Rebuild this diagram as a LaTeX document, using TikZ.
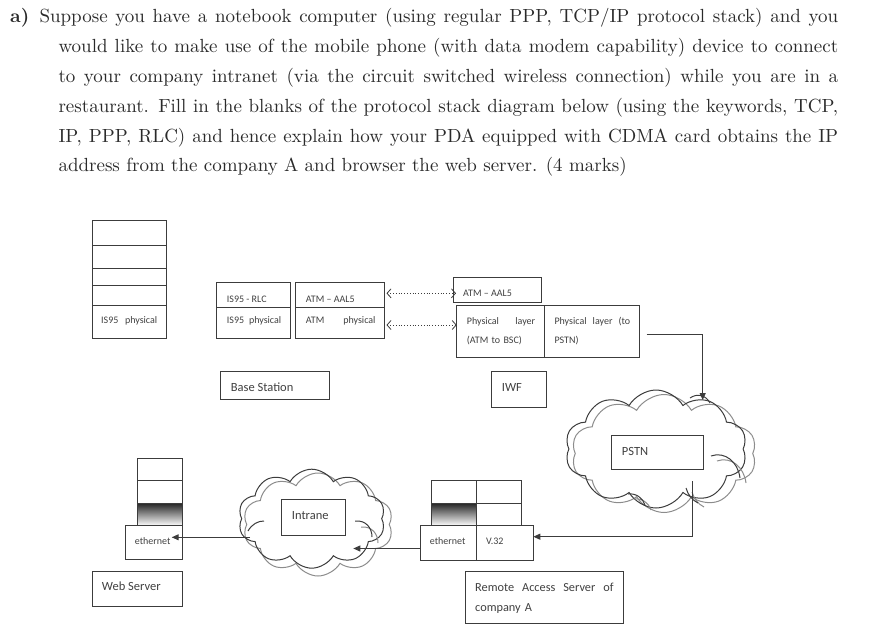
\documentclass[tikz,border=0pt]{standalone}
\usepackage{fontspec}
\newfontfamily\diagfont{Carlito}
\newfontfamily\titlefont{lmroman10-regular.otf}[BoldFont=lmroman10-bold.otf]
\usetikzlibrary{arrows.meta,shapes.symbols}
\definecolor{linec}{HTML}{3C3C3C}
\definecolor{txtc}{HTML}{404040}
\definecolor{titlec}{HTML}{2A2A2A}
\begin{document}
\begin{tikzpicture}[x=1pt,y=-1pt,
  box/.style={draw=linec, line width=1pt, inner sep=0pt, outer sep=0pt, anchor=north west},
  wbox/.style={box, fill=white},
  gbox/.style={box, top color=black!85, bottom color=white},
  sm/.style={font=\diagfont\fontsize{10}{12}\selectfont, text=txtc, inner sep=0pt, anchor=base west},
  lg/.style={font=\diagfont\fontsize{12.5}{15}\selectfont, text=txtc, inner sep=0pt, anchor=base west},
  arr/.style={draw=linec, line width=1pt, -{Triangle[length=7pt,width=6pt]}},
  darr/.style={draw=linec, line width=0.8pt, dotted, {Straight Barb[length=4pt,width=9pt]}-{Straight Barb[length=4pt,width=9pt]}},
  cloudk/.style={cloud, cloud puffs=10, cloud puff arc=120, cloud ignores aspect, draw=linec, line width=1pt, inner sep=0pt},
  cloudg/.style={cloudk, draw=black!45},
  inarck/.style={draw=linec, line width=1pt},
  inarcg/.style={draw=black!45, line width=1pt}
]
\useasboundingbox (0,0) rectangle (872,644);

% ---- question text ----
\node[anchor=base west, inner sep=0pt, text=titlec, font=\titlefont\fontsize{19}{29.8}\selectfont\bfseries] (qa) at (10,23) {a)};
\node[anchor=base west, inner sep=0pt, text=titlec, text width=798.7pt, align=justify, font=\titlefont\fontsize{19}{29.8}\selectfont] (qtext) at (39.3,23)
{\hangindent=19pt\hangafter=1 Suppose you have a notebook computer (using regular PPP, TCP/IP protocol stack) and you\linebreak
would like to make use of the mobile phone (with data modem capability) device to connect\linebreak
to your company intranet (via the circuit switched wireless connection) while you are in a\linebreak
restaurant. Fill in the blanks of the protocol stack diagram below (using the keywords, TCP,\linebreak
IP, PPP, RLC) and hence explain how your PDA equipped with CDMA card obtains the IP\linebreak
address from the company A and browser the web server. (4 marks)\par};

% ---- notebook stack ----
\node[box, minimum width=73.7pt, minimum height=25pt]   (nb1) at (92.3,220.7) {};
\node[box, minimum width=73.7pt, minimum height=23pt]   (nb2) at (92.3,245.7) {};
\node[box, minimum width=73.7pt, minimum height=16.6pt] (nb3) at (92.3,268.7) {};
\node[box, minimum width=73.7pt, minimum height=19.7pt] (nb4) at (92.3,285.3) {};
\node[box, minimum width=73.7pt, minimum height=33.3pt] (nb5) at (92.3,305) {};
\node[sm, text width=56pt] (nb5t) at (101,323.5) {IS95\hfill physical};

% ---- base station ----
\node[box, minimum width=74.7pt, minimum height=25.7pt] (bs1) at (216,282) {};
\node[box, minimum width=74.7pt, minimum height=30.6pt] (bs2) at (216,307.7) {};
\node[box, minimum width=88.6pt, minimum height=25.7pt] (bs3) at (295.7,282) {};
\node[box, minimum width=88.6pt, minimum height=30.6pt] (bs4) at (295.7,307.7) {};
\node[sm] (bs1t) at (226.7,302.5) {IS95 - RLC};
\node[sm, text width=54.3pt] (bs2t) at (226.7,323.5) {IS95\hfill physical};
\node[sm] (bs3t) at (305.7,302.5) {ATM – AAL5};
\node[sm, text width=69.6pt] (bs4t) at (305.7,323.5) {ATM\hfill physical};
\node[box, minimum width=109pt, minimum height=27.3pt] (bsl) at (220,371.7) {};
\node[lg] (bslt) at (230.7,391.2) {Base Station};

% ---- IWF ----
\node[box, minimum width=88.4pt, minimum height=25.4pt] (i1) at (453.3,277.3) {};
\node[box, minimum width=87.6pt, minimum height=52.3pt] (i2) at (456.7,305) {};
\node[box, minimum width=95pt, minimum height=52.3pt]   (i3) at (544.3,305) {};
\node[sm] (i1t) at (463,296.5) {ATM – AAL5};
\node[sm, text width=68.3pt, align=left, font=\diagfont\fontsize{10}{19.3}\selectfont] (i2t) at (466.7,324.2) {Physical\hfill layer\\(ATM to BSC)};
\node[sm, text width=75.7pt, align=left, font=\diagfont\fontsize{10}{19.3}\selectfont] (i3t) at (554.3,324.2) {Physical\hfill layer\hfill (to\\PSTN)};
\node[box, minimum width=54.3pt, minimum height=35.6pt] (iwfl) at (491.7,371.7) {};
\node[lg] (iwflt) at (501.7,391.2) {IWF};

% ---- dotted links ----
\coordinate (d1a) at (386.5,293.3);
\coordinate (d1b) at (456,293.3);
\coordinate (d2a) at (386.5,325);
\coordinate (d2b) at (456.7,325);
\draw[darr] (d1a) -- (d1b);
\draw[darr] (d2a) -- (d2b);

% ---- clouds ----
\node[cloudg, minimum width=185pt, minimum height=118pt] (pstncg) at (664,453.5) {};
\node[cloudk, minimum width=182pt, minimum height=118pt] (pstnc) at (656,449) {};
\draw[inarcg] (717,461) .. controls (731,456) and (744,467) .. (746,483);
\draw[inarck] (711,456) .. controls (725,451) and (738,462) .. (740,478);
\draw[inarcg] (692,492) .. controls (694,499) and (698,504) .. (704,507);
\draw[inarck] (686,488) .. controls (688,495) and (692,500) .. (698,503);
\draw[inarcg] (634,499) .. controls (642,498) and (649,503) .. (651,510);
\draw[inarck] (628,494) .. controls (636,493) and (643,498) .. (645,505);
\draw[inarck] (690,398) .. controls (697,393) and (706,395) .. (710,403);

\node[cloudg, minimum width=150pt, minimum height=103pt] (intcg) at (318,524.5) {};
\node[cloudk, minimum width=147pt, minimum height=99pt] (intc) at (311.7,518.7) {};
\draw[inarcg] (361,527) .. controls (372,526) and (378,534) .. (378,543);
\draw[inarck] (355,521) .. controls (366,520) and (372,528) .. (372,537);
\draw[inarck] (248,531) .. controls (252,524) and (258,521) .. (264,521);

\node[wbox, minimum width=91.6pt, minimum height=34.3pt] (pstnb) at (611.7,435) {};
\node[lg] (pstnt) at (621.7,455.5) {PSTN};
\node[wbox, minimum width=64pt, minimum height=36.4pt] (intb) at (281,499.3) {};
\node[lg] (intt) at (291.7,519.5) {Intrane};

% ---- remote access server ----
\node[box, minimum width=45.7pt, minimum height=23.3pt] (r1) at (431,480) {};
\node[box, minimum width=45pt, minimum height=23.3pt]   (r2) at (476.7,480) {};
\node[gbox, minimum width=45.7pt, minimum height=22.4pt] (r3) at (431,503.3) {};
\node[box, minimum width=45pt, minimum height=22.4pt]   (r4) at (476.7,503.3) {};
\node[box, minimum width=56.7pt, minimum height=34.3pt] (rb1) at (420,525.7) {};
\node[box, minimum width=56.6pt, minimum height=34.3pt] (rb2) at (476.7,525.7) {};
\node[sm, anchor=base] (rb1t) at (447.7,544.2) {ethernet};
\node[sm] (rb2t) at (486,544.2) {V.32};
\node[box, minimum width=158.3pt, minimum height=51.6pt] (rasl) at (465,571.7) {};
\node[lg, text width=138.3pt, align=left, font=\diagfont\fontsize{12.3}{20}\selectfont] (raslt) at (475,591.2) {Remote\hfill Access\hfill Server\hfill of\\company A};

% ---- web server ----
\node[box, minimum width=45pt, minimum height=22.4pt]  (ws1) at (137.3,458.3) {};
\node[box, minimum width=45pt, minimum height=22.6pt]  (ws2) at (137.3,480.7) {};
\node[gbox, minimum width=45pt, minimum height=22.4pt] (ws3) at (137.3,503.3) {};
\node[box, minimum width=56.6pt, minimum height=33.3pt] (ws4) at (125.7,525.7) {};
\node[sm, anchor=base] (ws4t) at (152.7,544.2) {ethernet};
\node[box, minimum width=90pt, minimum height=35.7pt] (wsl) at (92.3,571) {};
\node[lg] (wslt) at (101.7,590.5) {Web Server};

% ---- connectors ----
\coordinate (iwfout) at (646.7,334);
\coordinate (pstnin) at (702.7,400);
\draw[arr] (iwfout) -| (pstnin);
\coordinate (pstnout) at (692,481);
\coordinate (rasin) at (533.3,536.7);
\draw[arr] (pstnout) |- (rasin);
\coordinate (rasout) at (420,548.5);
\coordinate (intin) at (353.3,548.5);
\draw[arr] (rasout) -- (intin);
\coordinate (intout) at (250,537.3);
\coordinate (wsin) at (171.7,537.3);
\draw[arr] (intout) -- (wsin);
\end{tikzpicture}
\end{document}
